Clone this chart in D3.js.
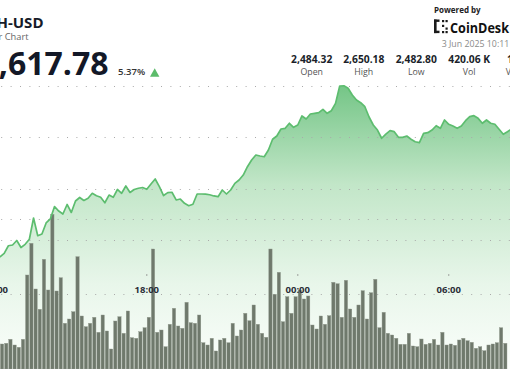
<!DOCTYPE html>
<html><head><meta charset="utf-8">
<script src="https://cdn.jsdelivr.net/npm/d3@7"></script>
<style>
html,body{margin:0;padding:0;background:#fff;overflow:hidden;}
svg{display:block;font-family:"Open Sans","Noto Sans",sans-serif;}
</style></head>
<body>
<svg id="c" width="510" height="369"></svg>
<script>
// ---- data (10-minute steps starting 2 Jun 2025 12:00 UTC) ----
const startTime = Date.UTC(2025, 5, 2, 12, 0);
const stepMin = 10;
const prices = [2482.8,
 2483.7,2487.0,2494.4,2495.1,2499.5,2492.7,2495.8,2500.7,2521.4,2504.2,
 2505.8,2516.6,2520.5,2532.6,2528.2,2525.3,2534.6,2526.8,2538.0,2541.4,
 2538.5,2540.6,2545.5,2543.1,2541.6,2536.3,2543.8,2541.6,2549.2,2545.5,
 2552.6,2546.3,2549.2,2550.4,2551.1,2549.4,2554.5,2559.4,2551.9,2543.3,
 2546.1,2546.5,2539.0,2539.9,2535.7,2533.4,2534.8,2544.8,2544.8,2544.6,
 2544.1,2542.9,2542.2,2548.7,2544.8,2548.7,2555.2,2558.4,2563.3,2571.4,
 2577.9,2582.8,2581.8,2581.1,2587.7,2598.1,2601.3,2608.1,2608.8,2613.7,
 2609.8,2612.0,2620.8,2617.9,2622.7,2623.4,2624.0,2627.3,2623.4,2625.9,
 2633.1,2650.0,2650.2,2647.8,2641.2,2636.4,2633.7,2629.8,2619.8,2612.0,
 2607.1,2599.1,2603.2,2606.5,2605.5,2600.0,2600.0,2601.3,2598.1,2595.7,
 2594.8,2603.9,2604.5,2607.1,2611.3,2608.8,2616.9,2612.7,2611.0,2608.8,
 2611.0,2616.2,2620.1,2621.1,2618.5,2613.7,2616.9,2613.7,2612.7,2607.8,
 2603.0,2605.5,2608.1];
// volumes, one bar per 10 minutes starting 12:10
const volumes = [
 3070,2500,2570,2970,2400,2170,2970,9400,12570,8000,
 5970,10970,7900,15470,7800,9130,4570,5000,5730,11230,
 5300,4230,4570,5170,3670,5400,3800,2000,4800,5230,
 3570,5800,3130,3070,3730,4130,5170,12000,3670,3900,
 2230,4470,6070,4300,4070,6670,4630,4570,5400,2630,
 2400,3070,1800,2900,3070,2630,4570,3300,3900,5570,
 4830,6400,4470,3570,3170,12000,7470,9670,4730,7230,
 5570,7230,7900,7000,7300,4400,4000,5300,4470,5330,
 8670,8530,5170,8870,6000,5170,6400,7830,5000,7630,
 8970,4130,5670,3570,3400,3070,2470,2470,3570,2300,
 2230,3000,2470,2570,2970,2400,3670,2400,2500,2370,
 2900,3070,2830,2670,2070,2230,1830,2400,2500,2630,
 4130,2570];
const tickLabels = ["12:00","18:00","00:00","06:00"];
const tickTimes = [Date.UTC(2025,5,2,12,0),Date.UTC(2025,5,2,18,0),Date.UTC(2025,5,3,0,0),Date.UTC(2025,5,3,6,0)];
const priceGrid = [2500,2550,2600,2650];
const volumeGrid = [7500,15000];
const statValues = ["2,484.32","2,650.18","2,482.80","420.06 K","1.08 B"];
const statLabels = ["Open","High","Low","Vol","Vol USD"];

// ---- scales ----
const W = 510, H = 369;
const svg = d3.select("#c");
const t0 = new Date(startTime + stepMin*60000);
const x = d3.scaleUtc()
  .domain([t0, new Date(startTime + 122*stepMin*60000)])
  .range([0, 121*4.194]);
const y = d3.scaleLinear().domain([2500, 2650]).range([240, 86]);
const yv = d3.scaleLinear().domain([0, 20000]).range([369, 169]);

const priceData = prices.map((p,i)=>({t:new Date(startTime + i*stepMin*60000), p}));
const volData = volumes.map((v,i)=>({t:new Date(startTime + (i+1)*stepMin*60000), v}));

// gradient
const defs = svg.append("defs");
const g = defs.append("linearGradient").attr("id","ag")
  .attr("gradientUnits","userSpaceOnUse").attr("x1",0).attr("y1",85).attr("x2",0).attr("y2",369);
g.append("stop").attr("offset",0).attr("stop-color","#74c586");
g.append("stop").attr("offset",0.35).attr("stop-color","#c2e6c8");
g.append("stop").attr("offset",0.7).attr("stop-color","#e8f6ea");
g.append("stop").attr("offset",1).attr("stop-color","#fbfefb");

// area
const area = d3.area().x(d=>x(d.t)).y0(H).y1(d=>y(d.p));
svg.append("path").datum(priceData).attr("d",area).attr("fill","url(#ag)");

// grid lines
const gridG = svg.append("g");
priceGrid.concat([]).forEach(v=>{
  gridG.append("line").attr("x1",0).attr("x2",W).attr("y1",Math.round(y(v))+0.5).attr("y2",Math.round(y(v))+0.5)
   .attr("stroke","#a9a9a9").attr("stroke-width",1).attr("stroke-dasharray","1 8.4").attr("stroke-dashoffset",-1.2);
});
volumeGrid.forEach(v=>{
  gridG.append("line").attr("x1",0).attr("x2",W).attr("y1",Math.round(yv(v))+0.5).attr("y2",Math.round(yv(v))+0.5)
   .attr("stroke","#a9a9a9").attr("stroke-width",1).attr("stroke-dasharray","1 8.4").attr("stroke-dashoffset",-1.2);
});

// bars
svg.append("g").selectAll("rect").data(volData).join("rect")
  .attr("x",d=>x(d.t)-3.8)
  .attr("width",3.3)
  .attr("y",d=>yv(d.v))
  .attr("height",d=>H-yv(d.v))
  .attr("fill","#6f796c")
  .attr("stroke","#8f988c").attr("stroke-width",0.4);

// line
const line = d3.line().x(d=>x(d.t)).y(d=>y(d.p));
svg.append("path").datum(priceData).attr("d",line)
  .attr("fill","none").attr("stroke","#5dbd6f").attr("stroke-width",1.7).attr("stroke-linejoin","round");

// x axis labels
const ax = svg.append("g");
tickTimes.forEach((tt,i)=>{
  const xx = x(new Date(tt));
  ax.append("circle").attr("cx",xx).attr("cy",275).attr("r",0.7).attr("fill","#888");
  ax.append("text").attr("x",xx).attr("y",292.5).attr("text-anchor","middle")
    .attr("font-size",9.5).attr("font-weight",700).attr("fill","#2b2f38").text(tickLabels[i]);
});

// header
const hd = svg.append("g");
hd.append("text").attr("x",43.5).attr("y",28).attr("text-anchor","end")
  .attr("font-size",15).attr("font-weight",700).attr("fill","#161b29").text("ETH-USD");
hd.append("text").attr("x",28.5).attr("y",39.6).attr("text-anchor","end")
  .attr("font-size",9.3).attr("fill","#666").text("24 Hour Chart");
hd.append("text").attr("x",108.5).attr("y",75).attr("text-anchor","end")
  .attr("font-size",32).attr("font-weight",700).attr("fill","#131827").text("2,617.78");
hd.append("text").attr("x",118).attr("y",75).attr("font-size",9.5).attr("font-weight",600)
  .attr("fill","#333").text("5.37%");
hd.append("path").attr("d","M150,76.7 L159.4,76.7 L154.7,68.3 Z").attr("fill","#5cbb6a");

// powered by
hd.append("text").attr("x",434).attr("y",13.2).attr("font-size",8).attr("font-weight",700)
  .attr("fill","#222").text("Powered by");
const logo = hd.append("g").attr("fill","#1a1a1a");
logo.append("rect").attr("x",434).attr("y",19.5).attr("width",2.6).attr("height",13.6);
logo.append("rect").attr("x",434).attr("y",19.5).attr("width",5.5).attr("height",2.4);
logo.append("rect").attr("x",434).attr("y",30.7).attr("width",5.5).attr("height",2.4);
[[442,20],[445.5,20],[442,24.8],[445.5,27.5],[442,31],[445.5,31]].forEach(([a,b])=>{
  logo.append("rect").attr("x",a).attr("y",b).attr("width",2.2).attr("height",2.2);
});
hd.append("text").attr("x",450).attr("y",32.6).attr("font-size",13.6).attr("font-weight",700)
  .attr("fill","#111").attr("textLength",59).attr("lengthAdjust","spacingAndGlyphs").text("CoinDesk");
hd.append("text").attr("x",441.7).attr("y",47.4).attr("font-size",8.8).attr("fill","#8a8a8a")
  .text("3 Jun 2025 10:11 UTC");

const statCenters = [311.7,363.8,416.3,469.2,522];
statValues.forEach((v,i)=>{
  hd.append("text").attr("x",statCenters[i]).attr("y",63).attr("text-anchor","middle")
    .attr("font-size",10.3).attr("font-weight",700).attr("fill","#1b1f2a").text(v);
  hd.append("text").attr("x",statCenters[i]).attr("y",75).attr("text-anchor","middle")
    .attr("font-size",8.8).attr("fill","#555").text(statLabels[i]);
});
</script>
</body></html>
